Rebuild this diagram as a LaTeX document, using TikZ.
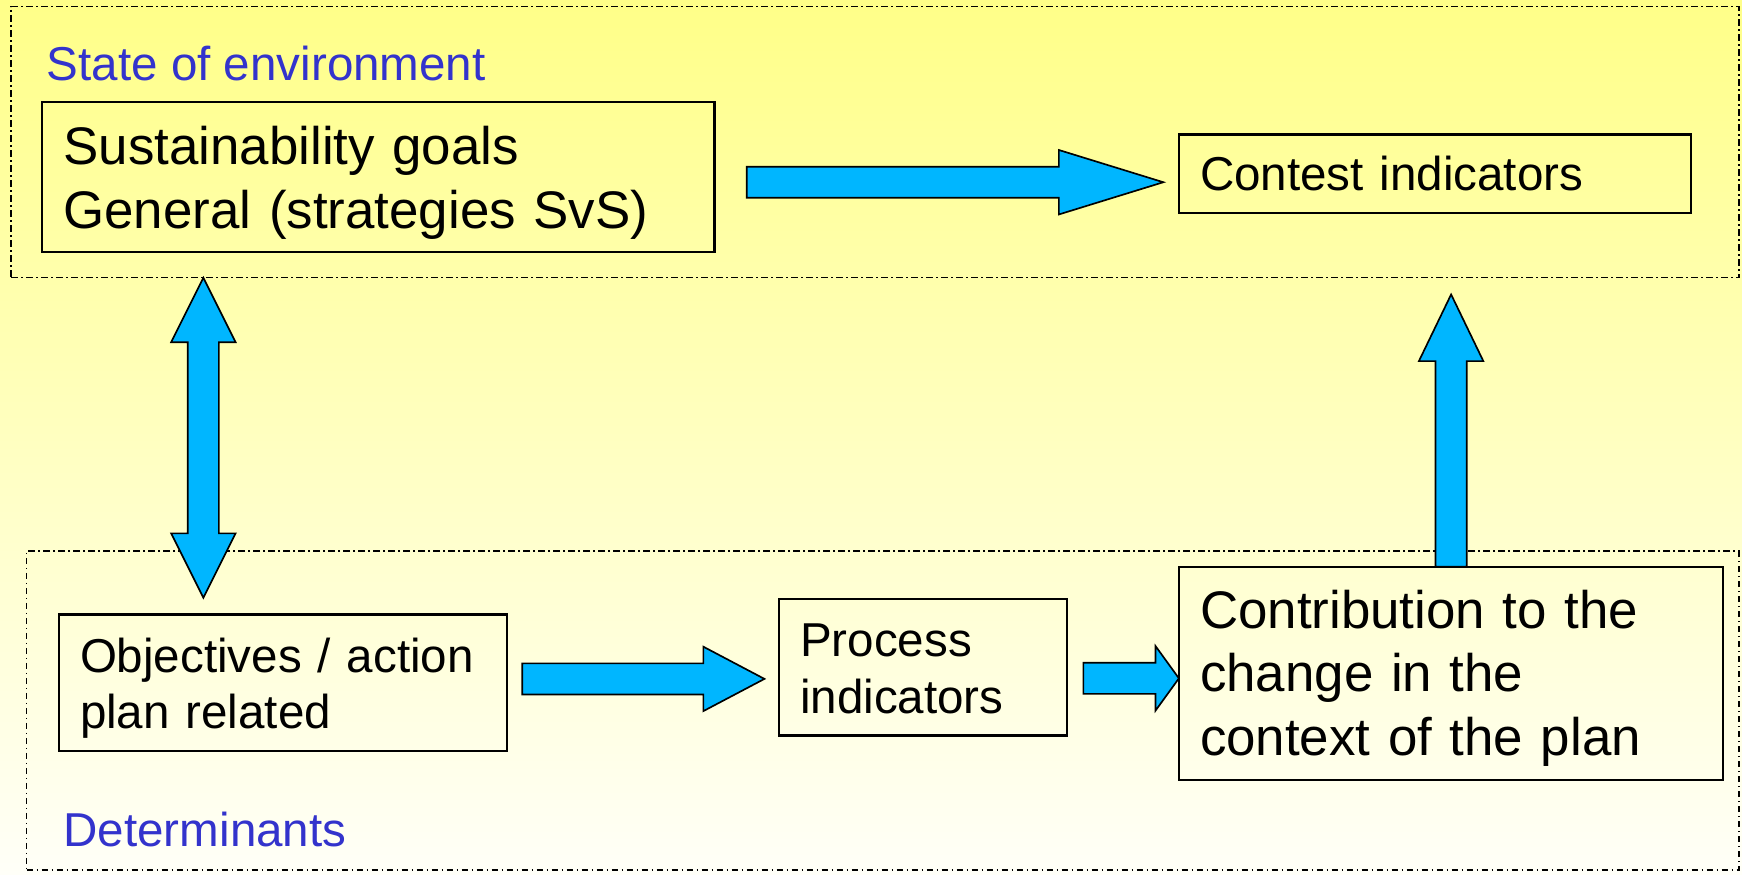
\documentclass[tikz,border=0pt]{standalone}
\usepackage{fontspec}
\setmainfont{Liberation Sans}
\usetikzlibrary{positioning,calc}
\definecolor{arrowColor}{RGB}{0,182,255}
\definecolor{labelColor}{RGB}{51,51,204}
\definecolor{topYellow}{RGB}{255,255,136}
\definecolor{bottomYellow}{RGB}{255,255,248}
\tikzstyle{diagram} = [x = 1pt, y = -1pt]
\tikzstyle{regionStyle} = [draw, line width=1.2pt, dash pattern=on 6pt off 3pt on 1.5pt off 3pt, anchor=north west, inner sep=0pt, outer sep=0pt]
\tikzstyle{regionText} = [color=labelColor, font=\fontsize{42.8}{51}\selectfont, anchor=base west, inner sep=0pt]
\tikzstyle{boxStyle} = [draw, line width=2pt, anchor=north west, inner xsep=19pt, inner ysep=0pt, outer sep=0pt, align=left]
\tikzstyle{smallText} = [font=\fontsize{42.8}{51}\selectfont]
\tikzstyle{largeText} = [font=\fontsize{47.6}{57.3}\selectfont]
\tikzstyle{firstLine} = [execute at begin node={\rule{0pt}{#1}}]
\tikzstyle{arrowStyle} = [draw, fill=arrowColor, line width=1.5pt, line join=miter]
\newcommand{\shaftHalf}{14}
\newcommand{\headHalf}{29}
\tikzset{
  rightArrow/.style={arrowStyle, to path={let \p1=(\tikztostart), \p2=(\tikztotarget) in
    (\x1,\y1+\shaftHalf) -- (\x2-#1,\y1+\shaftHalf) -- (\x2-#1,\y1+\headHalf) -- (\x2,\y1)
    -- (\x2-#1,\y1-\headHalf) -- (\x2-#1,\y1-\shaftHalf) -- (\x1,\y1-\shaftHalf) -- cycle}},
  upArrow/.style={arrowStyle, to path={let \p1=(\tikztostart), \p2=(\tikztotarget) in
    (\x1-\shaftHalf,\y1) -- (\x1-\shaftHalf,\y2-#1) -- (\x1-\headHalf,\y2-#1) -- (\x1,\y2)
    -- (\x1+\headHalf,\y2-#1) -- (\x1+\shaftHalf,\y2-#1) -- (\x1+\shaftHalf,\y1) -- cycle}},
  doubleArrow/.style={arrowStyle, to path={let \p1=(\tikztostart), \p2=(\tikztotarget) in
    (\x1,\y1) -- (\x1+\headHalf,\y1-#1) -- (\x1+\shaftHalf,\y1-#1) -- (\x1+\shaftHalf,\y2+#1)
    -- (\x1+\headHalf,\y2+#1) -- (\x1,\y2) -- (\x1-\headHalf,\y2+#1) -- (\x1-\shaftHalf,\y2+#1)
    -- (\x1-\shaftHalf,\y1-#1) -- (\x1-\headHalf,\y1-#1) -- cycle}}
}
\begin{document}
\begin{tikzpicture}[diagram]
        % background
        \shade[top color=topYellow, bottom color=bottomYellow] (0,0) rectangle (1567.8,786.6);
        \useasboundingbox (0,0) rectangle (1567.8,786.6);

        % regions
        \node[regionStyle, minimum width=1555, minimum height=244] (stateRegion) at (10,6) {};
        \node[regionStyle, minimum width=1541, minimum height=287] (determRegion) at (24,496) {};
        \node[regionText] (stateLabel) at (42,72) {State of environment};
        \node[regionText] (determLabel) at (57,762) {Determinants};

        % boxes
        \node[boxStyle, largeText, firstLine=45pt, text width=567, minimum height=135] (goals) at (38,92) {Sustainability goals\\General (strategies SvS)};
        \node[boxStyle, smallText, text width=423, minimum height=71] (contest) at (1061,121) {Contest indicators};
        \node[boxStyle, smallText, firstLine=41pt, text width=365, minimum height=123] (obj) at (53,553) {Objectives / action\\plan related};
        \node[boxStyle, smallText, firstLine=33pt, text width=221, minimum height=123] (proc) at (701,539) {Process\\indicators};
        \node[boxStyle, largeText, firstLine=43pt, text width=452, minimum height=192] (contrib) at (1061,510) {Contribution to the\\change in the\\context of the plan};

        % arrows
        \draw[rightArrow=94] ($(goals.east)+(29,4.5)$) to ($(contest.west)+(-14,7.5)$);
        \draw[rightArrow=55] ($(obj.east)+(14,-3.5)$) to ($(proc.west)+(-13,10.5)$);
        \draw[rightArrow=21] ($(proc.east)+(15,10)$) to ($(contrib.west)+(0,4.5)$);
        \draw[upArrow=60] (contrib.north) to ($(contrib.north |- stateRegion.south)+(0,15)$);
        \draw[doubleArrow=58] ($(stateRegion.south west)+(173,0)$) to ($(obj.north west)+(130,-15)$);

        % boxes again on top of the arrows
        \draw[line width=2pt] (contrib.north west) rectangle (contrib.south east);
\end{tikzpicture}
\end{document}
